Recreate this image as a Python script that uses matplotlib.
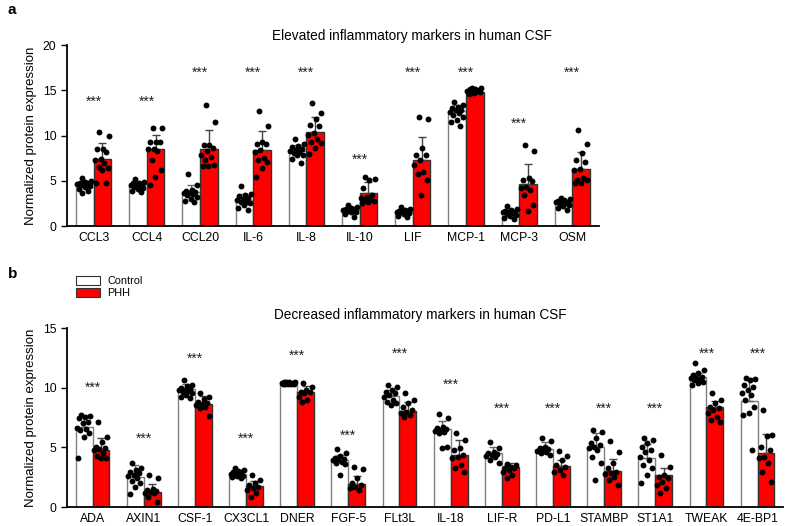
import numpy as np
import matplotlib
matplotlib.use("Agg")
import matplotlib.pyplot as plt
from matplotlib.patches import Patch

plt.rcParams['font.family'] = ['Liberation Sans', 'DejaVu Sans']

labels_a = ['CCL3', 'CCL4', 'CCL20', 'IL-6', 'IL-8', 'IL-10', 'LIF', 'MCP-1', 'MCP-3', 'OSM']
ctrl_mean_a = [4.6, 4.5, 3.8, 2.9, 8.3, 1.8, 1.6, 12.7, 1.5, 2.5]
ctrl_sd_a = [0.4, 0.35, 0.7, 0.6, 0.6, 0.3, 0.3, 0.7, 0.35, 0.4]
phh_mean_a = [7.4, 8.5, 8.5, 8.4, 10.4, 3.7, 7.3, 14.8, 4.6, 6.3]
phh_sd_a = [1.8, 1.6, 2.1, 2.1, 1.6, 1.2, 2.5, 0.3, 2.2, 1.9]
stars_a = [13.7, 13.7, 16.9, 16.9, 16.9, 7.3, 16.9, 16.9, 11.3, 16.9]

ctrl_pts_a = [
    [5.3, 5.0, 4.9, 4.8, 4.7, 4.7, 4.6, 4.5, 4.5, 4.4, 4.3, 4.1, 3.9, 3.6],
    [5.2, 4.9, 4.8, 4.7, 4.6, 4.5, 4.5, 4.4, 4.3, 4.2, 4.1, 3.9, 3.8],
    [5.7, 4.5, 4.0, 3.9, 3.8, 3.7, 3.6, 3.5, 3.4, 3.2, 3.0, 2.8, 2.7],
    [4.4, 3.5, 3.4, 3.3, 3.1, 3.0, 2.9, 2.7, 2.6, 2.5, 2.3, 2.0, 1.8],
    [9.6, 9.1, 8.8, 8.7, 8.5, 8.4, 8.3, 8.2, 8.1, 7.9, 7.8, 7.4, 7.0],
    [2.3, 2.1, 2.0, 1.9, 1.9, 1.8, 1.8, 1.7, 1.7, 1.6, 1.5, 1.3, 1.0],
    [2.1, 1.9, 1.8, 1.7, 1.7, 1.6, 1.6, 1.5, 1.5, 1.4, 1.3, 1.1, 1.0],
    [13.7, 13.4, 13.2, 13.0, 12.8, 12.8, 12.6, 12.5, 12.3, 12.1, 11.7, 11.5, 11.0],
    [2.2, 1.9, 1.8, 1.7, 1.6, 1.5, 1.5, 1.4, 1.3, 1.2, 1.1, 0.9, 0.8],
    [3.1, 3.0, 2.9, 2.8, 2.7, 2.6, 2.6, 2.5, 2.4, 2.3, 2.2, 2.0, 1.8],
]
phh_pts_a = [
    [10.4, 9.9, 8.5, 8.5, 8.2, 7.4, 7.3, 7.0, 6.55, 6.4, 6.2, 4.7, 4.7],
    [10.8, 10.8, 9.3, 9.3, 9.3, 8.5, 8.5, 8.3, 7.3, 6.2, 5.4, 4.5],
    [13.4, 11.5, 8.9, 8.9, 8.6, 8.3, 7.8, 7.6, 7.3, 6.7, 6.6, 6.6],
    [12.7, 11.0, 9.25, 9.1, 9.05, 8.4, 8.2, 7.5, 7.3, 7.1, 6.4, 5.4],
    [13.6, 12.45, 11.8, 11.2, 11.0, 10.25, 10.05, 9.6, 9.3, 9.15, 8.6, 8.0],
    [5.4, 5.2, 5.1, 4.2, 3.4, 3.2, 3.1, 2.95, 2.9, 2.8, 2.7, 2.5],
    [12.0, 11.8, 8.6, 7.85, 7.85, 7.3, 6.7, 6.0, 5.8, 5.1, 3.4],
    [15.2, 15.2, 15.1, 15.1, 15.0, 15.0, 14.9, 14.9, 14.8, 14.8, 14.7, 14.6],
    [8.95, 8.3, 5.3, 5.1, 5.0, 4.35, 4.15, 4.0, 3.4, 2.3, 1.65],
    [10.6, 9.1, 8.1, 7.3, 7.1, 6.3, 6.2, 5.3, 5.1, 5.1, 4.7, 4.7],
]

labels_b = ['ADA', 'AXIN1', 'CSF-1', 'CX3CL1', 'DNER', 'FGF-5', 'FLt3L', 'IL-18',
            'LIF-R', 'PD-L1', 'STAMBP', 'ST1A1', 'TWEAK', '4E-BP1']
ctrl_mean_b = [6.7, 2.5, 9.9, 2.8, 10.4, 3.97, 9.3, 6.5, 4.5, 4.86, 5.0, 4.1, 10.9, 8.9]
ctrl_sd_b = [1.0, 1.0, 0.4, 0.27, 0.07, 0.35, 0.5, 0.7, 0.5, 0.6, 1.2, 1.2, 0.3, 1.9]
phh_mean_b = [4.8, 1.26, 8.66, 1.76, 9.66, 1.96, 8.04, 4.4, 3.35, 3.4, 3.0, 2.65, 8.4, 4.5]
phh_sd_b = [1.0, 0.65, 0.64, 0.45, 0.45, 0.6, 0.75, 1.2, 0.3, 0.55, 1.0, 0.65, 0.45, 1.6]
stars_b = [10.0, 5.7, 12.4, 5.7, 12.7, 6.0, 12.85, 10.25, 8.2, 8.2, 8.2, 8.2, 12.85, 12.85]

ctrl_pts_b = [
    [7.7, 7.65, 7.57, 7.43, 7.15, 7.07, 6.6, 6.5, 6.45, 6.18, 5.9, 4.13],
    [3.66, 3.24, 3.1, 2.9, 2.83, 2.68, 2.6, 2.4, 2.18, 1.99, 1.7, 1.06],
    [10.65, 10.2, 10.1, 9.95, 9.9, 9.8, 9.8, 9.7, 9.67, 9.53, 9.4, 9.25, 9.1],
    [3.3, 3.1, 3.0, 2.9, 2.9, 2.8, 2.8, 2.7, 2.7, 2.6, 2.6, 2.5, 2.4],
    [10.5, 10.5, 10.45, 10.45, 10.4, 10.4, 10.4, 10.35, 10.35, 10.3, 10.3, 10.3],
    [4.84, 4.5, 4.27, 4.08, 4.0, 3.94, 3.9, 3.8, 3.66, 3.6, 2.68],
    [10.2, 10.08, 9.81, 9.67, 9.53, 9.4, 9.25, 8.97, 8.8, 8.69, 8.55],
    [7.77, 7.43, 6.73, 6.6, 6.5, 6.45, 6.4, 6.31, 6.2, 5.05, 4.92],
    [5.47, 4.92, 4.64, 4.5, 4.45, 4.36, 4.3, 4.22, 3.94, 3.66],
    [5.76, 5.56, 5.05, 4.92, 4.85, 4.78, 4.7, 4.64, 4.5, 4.36],
    [6.45, 6.31, 5.76, 5.34, 5.2, 5.05, 4.92, 4.78, 4.22, 3.66, 2.26],
    [5.76, 5.62, 5.34, 5.05, 4.78, 4.64, 4.22, 3.94, 3.52, 3.24, 2.68, 1.99],
    [12.1, 11.48, 11.2, 11.07, 10.93, 10.85, 10.79, 10.7, 10.65, 10.5, 10.37, 10.2],
    [10.79, 10.7, 10.65, 10.2, 10.08, 9.81, 9.53, 9.39, 8.97, 8.41, 7.85, 7.71, 4.78],
]
phh_pts_b = [
    [7.1, 5.84, 5.47, 5.05, 4.92, 4.86, 4.78, 4.5, 4.27, 4.08, 4.08],
    [2.68, 2.46, 1.5, 1.42, 1.35, 1.28, 1.2, 1.15, 0.86, 0.44],
    [9.58, 9.25, 9.03, 8.83, 8.69, 8.6, 8.55, 8.41, 8.3, 7.63],
    [2.68, 2.26, 1.98, 1.85, 1.7, 1.6, 1.42, 1.15, 0.86],
    [10.37, 10.08, 9.81, 9.67, 9.6, 9.53, 9.25, 8.97, 8.83],
    [3.38, 3.16, 2.4, 1.98, 1.84, 1.7, 1.57, 1.42],
    [9.53, 8.97, 8.69, 8.41, 8.13, 7.95, 7.85, 7.71, 7.57],
    [6.18, 5.62, 4.92, 4.78, 4.36, 4.22, 4.08, 3.52, 3.24, 2.96],
    [3.6, 3.5, 3.38, 3.3, 3.24, 3.1, 2.96, 2.68, 2.4],
    [4.7, 4.27, 3.94, 3.52, 3.38, 3.1, 2.96, 2.68],
    [5.53, 4.58, 3.66, 3.24, 2.96, 2.82, 2.8, 2.54, 2.26, 1.84],
    [4.36, 3.38, 2.68, 2.54, 2.4, 2.12, 1.84, 1.57, 1.15],
    [9.58, 8.97, 8.69, 8.41, 8.27, 8.13, 7.85, 7.57, 7.29, 7.15],
    [8.13, 6.04, 5.95, 5.05, 4.78, 4.22, 4.08, 3.66, 2.96, 2.12],
]

RED = '#ff0000'
BW = 0.33


def spread(n, width):
    # golden-ratio steps give an even, non-striped scatter inside the bar
    k = np.arange(n)
    frac = (k * 0.618034 + 0.3) % 1.0 - 0.5
    return frac * width * 0.85


def panel(ax, labels, cm, cs, pm, ps, cpts, ppts, stars, ymax, step):
    x = np.arange(len(labels))
    xc = x - BW / 2
    xp = x + BW / 2
    ax.bar(xc, cm, BW, color='white', edgecolor='#808080', linewidth=1.0, zorder=1)
    ax.bar(xp, pm, BW, color=RED, edgecolor='#333333', linewidth=1.0, zorder=1)
    ax.errorbar(xc, cm, yerr=[np.zeros(len(cm)), cs], fmt='none', ecolor='#666666',
                elinewidth=1.0, capsize=3.2, capthick=1.0, zorder=2)
    ax.errorbar(xp, pm, yerr=[np.zeros(len(pm)), ps], fmt='none', ecolor='#444444',
                elinewidth=1.0, capsize=3.2, capthick=1.0, zorder=2)
    for i in range(len(labels)):
        for pos, pts in ((xc[i], cpts[i]), (xp[i], ppts[i])):
            ax.scatter(pos + spread(len(pts), BW), pts, s=18, color='black',
                       linewidths=0, zorder=3)
        ax.text(x[i], stars[i], '***', ha='center', va='center', fontsize=10, color='#222222')
    ax.set_xlim(-0.5, len(labels) - 0.5)
    ax.set_ylim(0, ymax)
    ax.set_yticks(np.arange(0, ymax + 0.1, step))
    ax.set_xticks(x)
    ax.set_xticklabels(labels, fontsize=8.8)
    ax.tick_params(axis='x', length=0, pad=4)
    ax.tick_params(axis='y', labelsize=8.8, length=4, width=1)
    for s in ('top', 'right'):
        ax.spines[s].set_visible(False)
    for s in ('left', 'bottom'):
        ax.spines[s].set_linewidth(1.3)
    ax.set_ylabel('Normalized protein expression', fontsize=9.5, labelpad=4)


fig = plt.figure(figsize=(7.87, 5.26), dpi=100)
ax_a = fig.add_axes([0.0851, 0.5703, 0.676, 0.3441])
ax_b = fig.add_axes([0.0851, 0.0361, 0.910, 0.3403])

panel(ax_a, labels_a, ctrl_mean_a, ctrl_sd_a, phh_mean_a, phh_sd_a,
      ctrl_pts_a, phh_pts_a, stars_a, 20, 5)
panel(ax_b, labels_b, ctrl_mean_b, ctrl_sd_b, phh_mean_b, phh_sd_b,
      ctrl_pts_b, phh_pts_b, stars_b, 15, 5)

fig.text(412 / 787, 1 - 36 / 526, 'Elevated inflammatory markers in human CSF',
         ha='center', va='center', fontsize=9.8)
fig.text(420 / 787, 1 - 315 / 526, 'Decreased inflammatory markers in human CSF',
         ha='center', va='center', fontsize=9.8)
fig.text(8 / 787, 1 - 10 / 526, 'a', fontsize=11, fontweight='bold', va='center')
fig.text(8 / 787, 1 - 274 / 526, 'b', fontsize=11, fontweight='bold', va='center')

handles = [Patch(facecolor='white', edgecolor='#333333', linewidth=0.8),
           Patch(facecolor=RED, edgecolor='#333333', linewidth=0.8)]
fig.legend(handles, ['Control', 'PHH'], loc='upper left',
           bbox_to_anchor=(76 / 787, 1 - 276 / 526), frameon=False, fontsize=7.8,
           handlelength=2.2, handleheight=0.85, labelspacing=0.2, handletextpad=0.7,
           borderaxespad=0, borderpad=0)

fig.savefig('out.png', dpi=100)
